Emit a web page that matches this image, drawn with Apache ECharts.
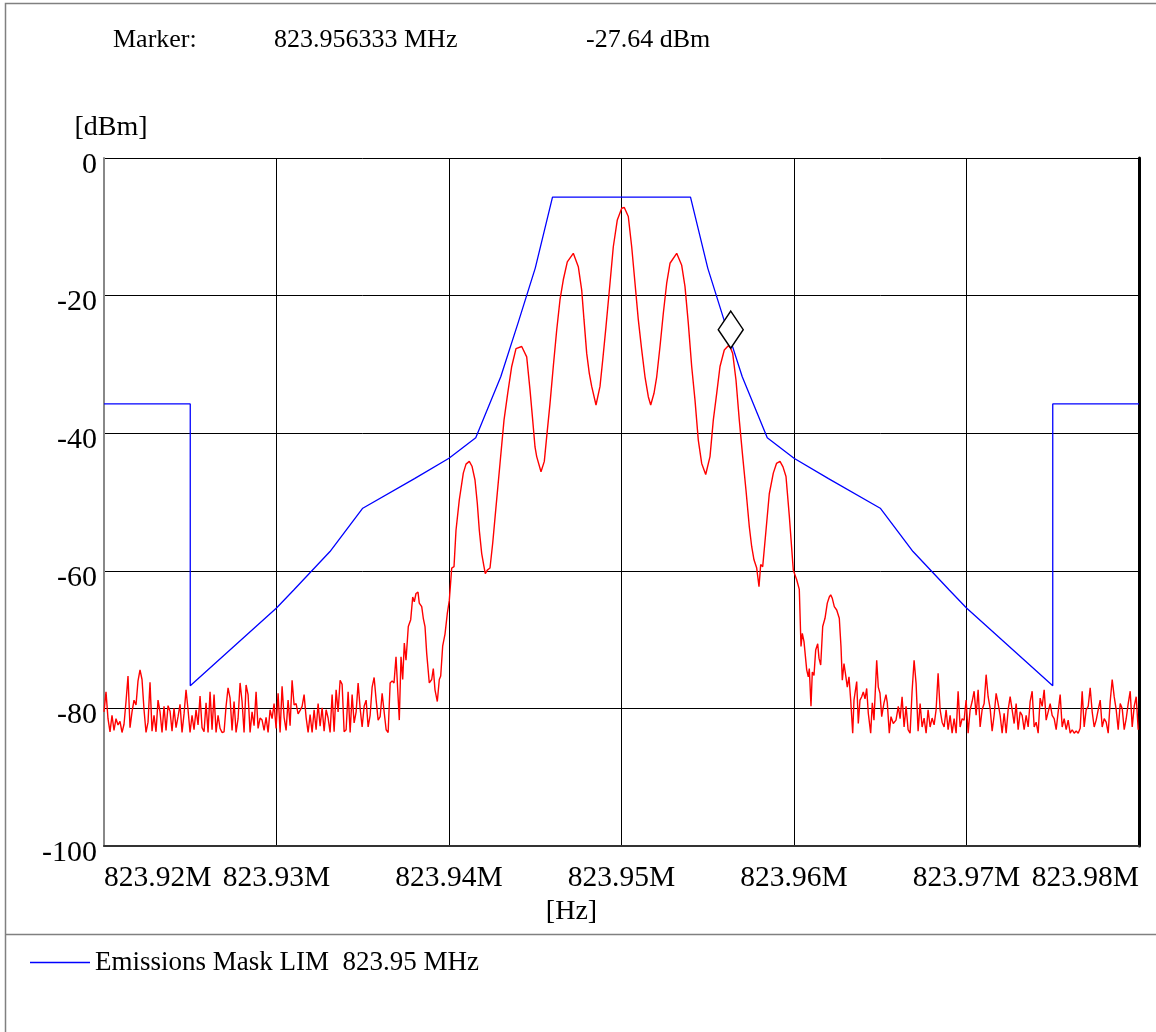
<!DOCTYPE html>
<html>
<head>
<meta charset="utf-8">
<script src="https://cdn.jsdelivr.net/npm/echarts@6/dist/echarts.min.js"></script>
<style>html,body{margin:0;padding:0;background:#fff;}#c{width:1156px;height:1032px;}</style>
</head>
<body>
<div id="c"></div>
<script>
// ---- data (frequencies as kHz offsets from the centre frequency) ----
const centerMHz = 823.95;
const markerMHz = 823.956333;
const markerDbm = -27.64;
const xTicksMHz = [823.92, 823.93, 823.94, 823.95, 823.96, 823.97, 823.98];
const yTicksDbm = [0, -20, -40, -60, -80, -100];

const maskOffsetKHz = [-30, -25, -25, -20, -19, -16.9, -15, -12, -10, -8.45, -7, -6, -5, -4,
                       4, 5, 6, 7, 8.45, 10, 12, 15, 16.9, 19, 20, 25, 25, 30];
const maskDbm = [-35.75, -35.75, -76.7, -65.4, -62.8, -57.2, -50.9, -46.6, -43.65, -40.65, -31.8, -24, -16, -5.7,
                 -5.7, -16, -24, -31.8, -40.65, -43.65, -46.6, -50.9, -57.2, -62.8, -65.4, -76.7, -35.75, -35.75];

const noiseStepKHz = 0.116;
const leftNoiseStartKHz = -30;
const leftNoiseDbm = [
 -80.5,-77.6,-81.5,-83.4,-81,-83.2,-81.5,-82.4,-81.9,-83.5,
 -82.3,-79,-75.3,-82.8,-80.5,-78.8,-79.5,-76,-74.4,-75.8,
 -80.2,-83.5,-82,-76.2,-83.3,-81,-83.4,-78.8,-80.5,-83.5,
 -79.7,-83.2,-79.6,-80.4,-83.3,-80,-82.8,-81.2,-79.4,-83.5,
 -80.8,-77.3,-80.2,-83.5,-81,-83.1,-80.2,-82.4,-78.2,-82.8,
 -83.4,-79.2,-83.5,-77.6,-83.1,-78,-83.5,-81,-82.9,-83.5,
 -83.4,-79.7,-77,-78.5,-83.2,-79,-83.5,-81.5,-76.3,-79,
 -83.5,-76.6,-78,-83.5,-80.5,-82.5,-77.6,-82.9,-81.4,-81.7,
 -83.2,-81.3,-83.5,-80.2,-81.5,-79.3,-82.9,-77.8,-83.5,-76.8,
 -81.3,-83.2,-78.8,-82.5,-75.9,-79.5,-79.3,-80.8,-80.3,-79.7,
 -78,-81.3,-83.5,-80.9,-83.5,-80.2,-83.1,-79.3,-82.6,-79.9,
 -83.3,-80.2,-81.4,-83.5,-78,-83.4,-77.3,-80.5,-75.9,-76.5,
 -83.4,-83.1,-77.6,-83.5,-78,-82.1,-80.5,-76.3,-80,-82.7,
 -79.7,-78.8,-82.7,-81,-76.9,-75.5,-78.8,-81.7,-81.2,-77.8,
 -80.5,-83.1,-83.5,-76.3,-76
];

const bodyOffsetKHz = [
 -13.188,-13.072,-12.997,-12.881,-12.782,-12.684,-12.591,-12.493,-12.359,-12.220,
 -12.104,-12.011,-11.913,-11.797,-11.722,-11.582,-11.490,-11.391,-11.293,-11.142,
 -11.003,-10.910,-10.812,-10.678,-10.562,-10.481,-10.365,-10.232,-10.098,-9.982,
 -9.843,-9.710,-9.594,-9.403,-9.171,-9.014,-8.823,-8.667,-8.493,-8.359,
 -8.243,-8.104,-7.971,-7.896,-7.780,-7.623,-7.467,-7.275,-7.043,-6.811,
 -6.597,-6.365,-6.116,-5.785,-5.496,-5.304,-5.148,-5.014,-4.916,-4.667,
 -4.475,-4.336,-4.145,-3.954,-3.756,-3.565,-3.374,-3.142,-2.794,-2.504,
 -2.307,-2.174,-2.017,-1.867,-1.728,-1.478,-1.246,-1.090,-0.899,-0.667,
 -0.475,-0.243,0.012,0.162,0.394,0.591,0.783,0.974,1.171,1.362,
 1.554,1.693,1.884,2.041,2.232,2.423,2.620,2.812,3.200,3.490,
 3.681,3.872,4.069,4.261,4.452,4.649,4.881,5.130,5.322,5.519,
 5.710,5.959,6.191,6.330,6.446,6.638,6.829,7.026,7.217,7.409,
 7.548,7.681,7.838,7.971,8.069,8.185,8.377,8.568,8.800,8.985,
 9.188,9.362,9.536,9.727,9.959,10.156,10.307,10.406,10.481,10.580,
 10.736,10.829,10.887,10.985,11.061,11.159,11.258,11.374,11.449,11.548,
 11.664,11.797,11.930,12.046,12.127,12.220,12.336,12.475,12.626,12.724,
 12.800,12.898,12.997,13.090,13.188,13.287,13.403,13.478,13.635,13.727,
 13.826,13.925,14.017,14.116,14.214,14.307,14.446,14.539,14.637,14.794,
 14.887,14.985,15.084,15.217,15.333,15.409,15.524,15.623,15.756,15.913,
 16.046
];
const bodyDbm = [
 -76.3,-72.5,-72.5,-81.7,-72.5,-75.8,-70.5,-73,-68.1,-67.1,
 -63.8,-64.5,-63.3,-63.1,-64.7,-65.2,-66.9,-68.1,-72,-76.3,
 -75.8,-74.2,-77.3,-79,-75.8,-75.3,-70.9,-69.2,-66.2,-64.3,
 -59.6,-59.4,-54.1,-49.7,-45.8,-44.5,-44.1,-44.8,-46.8,-50.2,
 -54.1,-57.5,-59.4,-60.4,-59.9,-59.6,-56,-50.7,-44.4,-38.1,
 -34.2,-30.3,-27.7,-27.4,-28.9,-33.7,-38.1,-42,-43.4,-45.6,
 -44.1,-40.5,-35.7,-30.3,-25,-20.6,-17.7,-15.1,-13.85,-15.8,
 -19.2,-23.5,-28.4,-31.3,-33.2,-35.9,-33.2,-29.4,-24.5,-18.2,
 -12.9,-9,-7.3,-7.2,-8.5,-12.9,-18.2,-23.5,-27.9,-31.8,
 -34.7,-35.9,-34.2,-31.8,-27.4,-22.6,-18.2,-15.3,-13.85,-15.6,
 -18.7,-24,-30.3,-35.2,-41,-44.4,-46,-43.4,-38.1,-34.2,
 -30.3,-27.9,-27.3,-27.64,-28.4,-32.3,-38.1,-43.4,-48.3,-53.6,
 -56.5,-58.4,-59.6,-62.3,-59.1,-59.4,-54.1,-48.8,-45.8,-44.4,
 -44.1,-44.9,-46.3,-52,-59.9,-61.3,-62.7,-71,-69.1,-70.3,
 -74.4,-75.4,-74.2,-79.7,-74.7,-75.2,-71.5,-70.6,-72.7,-73.7,
 -68.1,-66.9,-64.7,-63.8,-63.5,-64,-65.2,-65.7,-66.9,-71,
 -75.9,-73.5,-75.2,-76.9,-75.4,-78.8,-83.6,-78.8,-76.1,-82.2,
 -78.8,-78.3,-77.6,-78.6,-77.1,-80.7,-83.6,-79.2,-81.7,-73,
 -76.9,-77.8,-81.2,-79.2,-78,-79.2,-83.6,-81.2,-82.2,-81.7,
 -79.7
];

const rightNoiseStartKHz = 16.15;
const rightNoiseDbm = [
 -81.5,-78.3,-82.7,-79.7,-83.1,-83.6,-77.5,-73,-76.4,-83.3,
 -79.3,-82.7,-81.4,-83.6,-80.2,-82.7,-81.4,-82.4,-80.2,-74.9,
 -80.2,-82,-82.7,-80.2,-83.1,-81,-83.6,-81.5,-83.6,-77.5,
 -82.7,-81.5,-81.7,-78.8,-83.6,-80.2,-79,-77.5,-81,-77.3,
 -82.7,-80.2,-79.3,-75.1,-78.3,-80,-83.3,-81,-77.8,-79.3,
 -81,-83.6,-80.7,-83.6,-80.2,-78.3,-80.2,-82.2,-79.3,-83.1,
 -80.5,-81,-83.1,-81,-82.7,-79,-77.5,-82.7,-82,-83.6,
 -78.5,-79.7,-77.3,-81.7,-80.5,-79.3,-81,-81.5,-83.1,-80.5,
 -78,-82.7,-81.5,-83.1,-81.7,-83.6,-83.1,-83.6,-83.3,-83.6,
 -82.9,-77.5,-82.7,-80.2,-79.7,-77,-80.5,-82.7,-81.7,-80.2,
 -78.8,-82.7,-81.5,-82,-83.6,-79,-75.8,-78.3,-80.2,-83.1,
 -79.3,-80,-83.1,-81.5,-79.3,-77.5,-82.7,-79.7,-78.3,-83.1
];

// ---- build series data ----
const toMHz = k => centerMHz + k / 1000;
const trace = [];
leftNoiseDbm.forEach((v, i) => trace.push([toMHz(leftNoiseStartKHz + i * noiseStepKHz), v]));
bodyDbm.forEach((v, i) => trace.push([toMHz(bodyOffsetKHz[i]), v]));
rightNoiseDbm.forEach((v, i) => trace.push([toMHz(rightNoiseStartKHz + i * noiseStepKHz), v]));
const mask = maskDbm.map((v, i) => [toMHz(maskOffsetKHz[i]), v]);

const FONT = 'Liberation Serif';
const headStyle = {fontFamily: FONT, fontSize: 26, fontWeight: 'normal', color: '#000'};
const chart = echarts.init(document.getElementById('c'), null, {renderer: 'canvas'});
chart.setOption({
  animation: false,
  backgroundColor: '#fff',
  textStyle: {fontFamily: FONT, color: '#000'},
  title: [
    {text: 'Marker:', left: 113, top: 27, padding: 0, textStyle: headStyle},
    {text: markerMHz.toFixed(6) + ' MHz', left: 274, top: 27, padding: 0, textStyle: headStyle},
    {text: markerDbm.toFixed(2) + ' dBm', left: 586, top: 27, padding: 0, textStyle: headStyle}
  ],
  graphic: [
    {type: 'rect', shape: {x: 5.5, y: 3.5, width: 1170, height: 1060}, style: {fill: 'none', stroke: '#808080', lineWidth: 1.5}, silent: true},
    {type: 'line', shape: {x1: 5, y1: 934.5, x2: 1160, y2: 934.5}, style: {stroke: '#808080', lineWidth: 1.5}, silent: true}
  ],
  legend: {
    data: ['Emissions Mask LIM  823.95 MHz'],
    left: 30, top: 949, padding: 0,
    icon: 'rect', itemWidth: 60, itemHeight: 1.5, itemGap: 10,
    textStyle: {fontFamily: FONT, fontSize: 27, color: '#000'},
    selectedMode: false
  },
  grid: {left: 104, right: 17, top: 158, bottom: 186},
  xAxis: {
    type: 'value', min: xTicksMHz[0], max: xTicksMHz[xTicksMHz.length - 1], interval: 0.01,
    name: '[Hz]', nameLocation: 'middle', nameGap: 50,
    nameTextStyle: {fontFamily: FONT, fontSize: 28, color: '#000', padding: [0, 100, 0, 0]},
    axisLine: {show: true, onZero: false, lineStyle: {color: '#333', width: 2}},
    axisTick: {show: false},
    axisLabel: {
      fontFamily: FONT, fontSize: 29.5, color: '#000', margin: 17,
      alignMinLabel: 'left', alignMaxLabel: 'right',
      formatter: v => (Math.round(v * 100) / 100).toFixed(2) + 'M'
    },
    splitLine: {show: true, lineStyle: {color: '#000', width: 1}}
  },
  yAxis: [{
    type: 'value', min: yTicksDbm[yTicksDbm.length - 1], max: yTicksDbm[0], interval: 20,
    name: '[dBm]', nameLocation: 'end', nameGap: 16,
    nameTextStyle: {fontFamily: FONT, fontSize: 28, color: '#000', padding: [0, 0, 0, 14]},
    axisLine: {show: true, lineStyle: {color: '#888', width: 2}},
    axisTick: {show: false},
    axisLabel: {fontFamily: FONT, fontSize: 30, color: '#000', margin: 7, verticalAlign: 'top', lineHeight: 14},
    splitLine: {show: true, lineStyle: {color: '#000', width: 1}}
  }, {
    type: 'value', min: -100, max: 0, interval: 20, position: 'right',
    axisLine: {show: true, lineStyle: {color: '#000', width: 3}},
    axisTick: {show: false}, axisLabel: {show: false}, splitLine: {show: false}
  }],
  series: [
    {
      name: 'Emissions Mask LIM  823.95 MHz', type: 'line', data: mask,
      showSymbol: false, symbol: 'none', color: '#0000ff',
      lineStyle: {color: '#0000ff', width: 1.3}, z: 3, silent: true
    },
    {
      name: 'Trace', type: 'line', data: trace,
      showSymbol: false, symbol: 'none', color: '#ff0000',
      lineStyle: {color: '#ff0000', width: 1.4}, z: 4, silent: true
    },
    {
      name: 'Marker', type: 'scatter', data: [[markerMHz, markerDbm]],
      symbol: 'diamond', symbolSize: [25, 37], symbolOffset: [0, '-50%'],
      itemStyle: {color: '#fff', borderColor: '#000', borderWidth: 1.5, opacity: 1},
      z: 6, silent: true
    }
  ]
});
</script>
</body>
</html>
